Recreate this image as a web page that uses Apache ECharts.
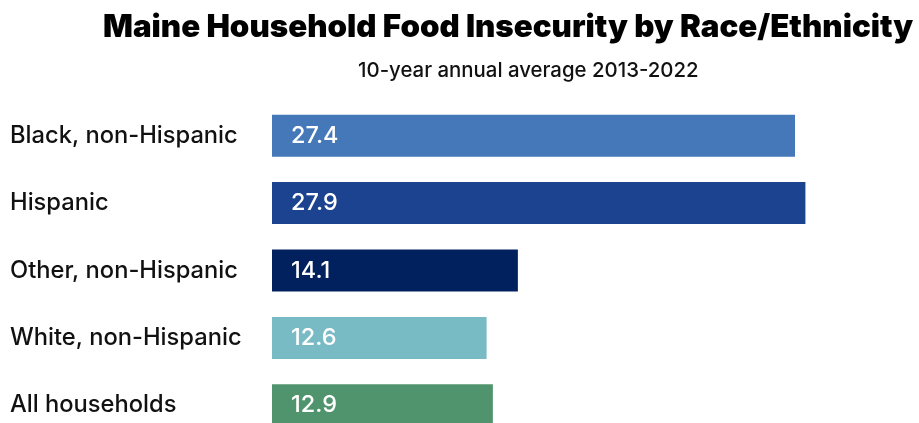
<!DOCTYPE html>
<html>
<head>
<meta charset="utf-8">
<style>
  html, body { margin: 0; padding: 0; background: #ffffff; }
  #chart { width: 919px; height: 423px; }
</style>
<script src="https://cdn.jsdelivr.net/npm/echarts@6/dist/echarts.min.js"></script>
</head>
<body>
<div id="chart"></div>
<script>
// Household food insecurity rate (%), 10-year annual average 2013-2022
const categories = ['Black, non-Hispanic', 'Hispanic', 'Other, non-Hispanic', 'White, non-Hispanic', 'All households'];
const rates = [27.4, 27.9, 14.1, 12.6, 12.9];
const barColors = ['#4578B9', '#1C438F', '#00215E', '#79BBC5', '#50946E'];

const titleText = 'Maine Household Food Insecurity by Race/Ethnicity';
const subtitleText = '10-year annual average 2013-2022';

const FONT = 'Inter, "Noto Sans", sans-serif';

const chart = echarts.init(document.getElementById('chart'), null, { renderer: 'canvas' });

chart.setOption({
  backgroundColor: '#ffffff',
  animation: false,
  title: [
    {
      text: titleText,
      left: 98,
      top: 7,
      textStyle: { fontFamily: FONT, fontSize: 31.3, fontWeight: 900, color: '#000000' }
    },
    {
      text: subtitleText,
      left: 353,
      top: 56,
      textStyle: { fontFamily: FONT, fontSize: 20.4, fontWeight: 500, color: '#111111' }
    }
  ],
  grid: {
    left: 272,
    top: 102,
    width: 573,
    height: 337,
    outerBoundsMode: 'none'
  },
  xAxis: {
    type: 'value',
    min: 2.3,
    max: 29.8,
    show: false
  },
  yAxis: {
    type: 'category',
    data: categories,
    inverse: true,
    axisLine: { show: false },
    axisTick: { show: false },
    splitLine: { show: false },
    axisLabel: {
      align: 'left',
      margin: 262,
      fontFamily: FONT,
      fontSize: 23.7,
      fontWeight: 500,
      color: '#111111'
    }
  },
  series: [
    {
      type: 'bar',
      data: rates.map((v, i) => ({ value: v, itemStyle: { color: barColors[i] } })),
      barWidth: 42,
      label: {
        show: true,
        position: 'insideLeft',
        distance: 19,
        fontFamily: FONT,
        fontSize: 23.5,
        fontWeight: 500,
        color: '#ffffff',
        formatter: (p) => p.value.toFixed(1)
      }
    }
  ]
});
</script>
</body>
</html>
